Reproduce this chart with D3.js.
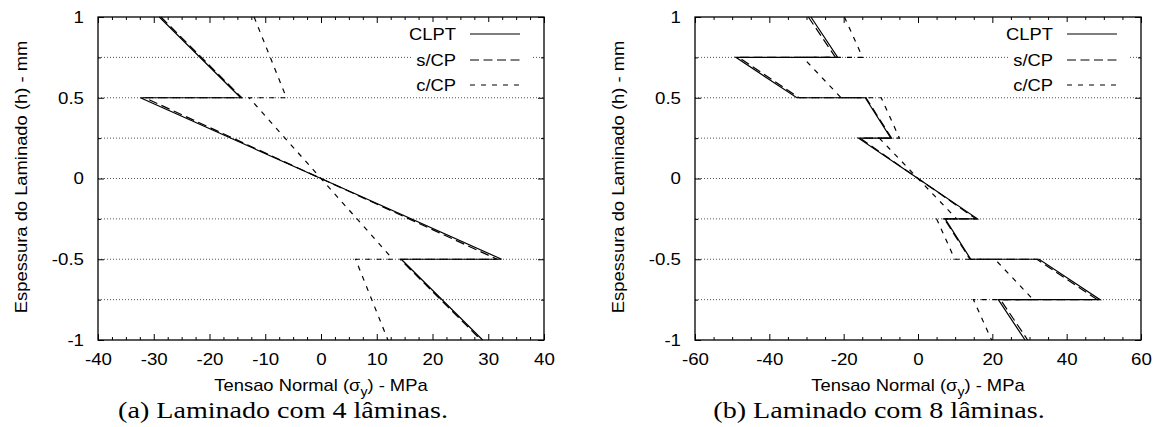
<!DOCTYPE html>
<html><head><meta charset="utf-8">
<script src="https://cdn.jsdelivr.net/npm/d3@7"></script>
<style>
body{margin:0;background:#fff}
svg{display:block}
text{font-family:"Liberation Sans",Arial,Helvetica,sans-serif;fill:#000}
text.cap{font-family:"Liberation Serif","Times New Roman",serif}
</style>
</head><body>
<svg id="c" width="1161" height="427"></svg>
<script>
// ---------- data ----------
const seriesNames = ["CLPT", "s/CP", "c/CP"];

// 4-ply laminate (panel a): thickness coordinate h (mm) and stress (MPa)
const h4    = [1, 0.5, 0.5, 0, -0.5, -0.5, -1];
const clpt4 = [-29.0, -14.4, -32.4, 0, 32.4, 14.4, 29.0];
const scp4  = [-28.7, -14.2, -31.6, 0, 31.6, 14.2, 28.7];
const ccp4  = [-12.0, -6.2, -12.9, 0, 12.9, 6.2, 12.0];

// 8-ply laminate (panel b)
const h8    = [1, 0.75, 0.75, 0.5, 0.5, 0.25, 0.25, 0, -0.25, -0.25, -0.5, -0.5, -0.75, -0.75, -1];
const clpt8 = [-28.8, -21.6, -49.0, -32.6, -14.2, -7.3, -16.0, 0, 16.0, 7.3, 14.2, 32.6, 49.0, 21.6, 28.8];
const scp8  = [-29.5, -22.2, -48.2, -32.0, -14.0, -7.1, -15.6, 0, 15.6, 7.1, 14.0, 32.0, 48.2, 22.2, 29.5];
const ccp8  = [-19.8, -14.9, -31.0, -20.7, -9.9, -5.0, -10.4, 0, 10.4, 5.0, 9.9, 20.7, 31.0, 14.9, 19.8];

const xTicks4 = [-40, -30, -20, -10, 0, 10, 20, 30, 40];
const xTicks8 = [-60, -40, -20, 0, 20, 40, 60];
const yTicks = [1, 0.5, 0, -0.5, -1];
const yTickLabels = ["1", "0.5", "0", "-0.5", "-1"];
const yLabel = "Espessura do Laminado (h) - mm";
const xLabelParts = ["Tensao Normal (\u03C3", "y", ") - MPa"];
const captions = ["(a) Laminado com 4 l\u00E2minas.", "(b) Laminado com 8 l\u00E2minas."];

// ---------- layout / style ----------
const svg = d3.select("#c");
const top0 = 17, bot0 = 340;
const dashes = [null, "9,4.5", "5,6"];
const panels = [
  {x0: 98, x1: 544, dom: [-40, 40], ticks: xTicks4, minor: 2.5, h: h4, series: [clpt4, scp4, ccp4], cap: captions[0], capX: 283},
  {x0: 695, x1: 1141, dom: [-60, 60], ticks: xTicks8, minor: 5, h: h8, series: [clpt8, scp8, ccp8], cap: captions[1], capX: 879}
];

function stretch(sel, k) {
  sel.each(function () {
    const w = this.getComputedTextLength();
    d3.select(this).attr("textLength", w * k).attr("lengthAdjust", "spacingAndGlyphs");
  });
}

panels.forEach(p => {
  const g = svg.append("g");
  const x = d3.scaleLinear().domain(p.dom).range([p.x0, p.x1]);
  const y = d3.scaleLinear().domain([-1, 1]).range([bot0, top0]);

  const xMinor = d3.range(p.dom[0], p.dom[1] + 1e-9, p.minor).filter(v => !p.ticks.includes(v));
  const yMinor = [0.75, 0.25, -0.25, -0.75];

  // grid
  g.append("g").selectAll("line").data(yTicks.concat(yMinor).filter(v => Math.abs(v) < 1)).join("line")
    .attr("x1", p.x0).attr("x2", p.x1).attr("y1", d => y(d)).attr("y2", d => y(d))
    .attr("stroke", "#555").attr("stroke-width", 1).attr("stroke-dasharray", "1,2");

  // axes
  const fmt = d => String(d);
  const ax = g.append("g").attr("transform", `translate(0,${bot0})`)
    .call(d3.axisBottom(x).tickValues(p.ticks).tickSize(-6).tickPadding(13).tickFormat(fmt));
  g.append("g").attr("transform", `translate(0,${bot0})`)
    .call(d3.axisBottom(x).tickValues(xMinor).tickSize(-3).tickFormat(""));
  g.append("g").attr("transform", `translate(0,${top0})`)
    .call(d3.axisTop(x).tickValues(p.ticks).tickSize(-6).tickFormat(""));
  g.append("g").attr("transform", `translate(0,${top0})`)
    .call(d3.axisTop(x).tickValues(xMinor).tickSize(-3).tickFormat(""));
  const ay = g.append("g").attr("transform", `translate(${p.x0},0)`)
    .call(d3.axisLeft(y).tickValues(yTicks).tickSize(-6).tickPadding(14).tickFormat((d, i) => yTickLabels[i]));
  g.append("g").attr("transform", `translate(${p.x0},0)`)
    .call(d3.axisLeft(y).tickValues(yMinor).tickSize(-3).tickFormat(""));
  g.append("g").attr("transform", `translate(${p.x1},0)`)
    .call(d3.axisRight(y).tickValues(yTicks).tickSize(-6).tickFormat(""));
  g.append("g").attr("transform", `translate(${p.x1},0)`)
    .call(d3.axisRight(y).tickValues(yMinor).tickSize(-3).tickFormat(""));
  g.selectAll(".domain").remove();
  g.selectAll(".tick line").attr("stroke", "#000").attr("stroke-width", 1);
  g.selectAll(".tick text").attr("font-size", 17).attr("fill", "#000");
  stretch(ax.selectAll(".tick text"), 1.1);
  stretch(ay.selectAll(".tick text"), 1.1);

  // legend (opaque box)
  g.append("rect").attr("x", p.x1 - 133).attr("y", 22).attr("width", 120).attr("height", 72).attr("fill", "#fff");
  seriesNames.forEach((name, i) => {
    const ly = [34, 60, 85][i];
    const t = g.append("text").attr("x", p.x1 - 88).attr("y", ly).attr("dy", "0.35em")
      .attr("text-anchor", "end").attr("font-size", 17).text(name);
    stretch(t, 1.08);
    g.append("line").attr("x1", p.x1 - 74).attr("x2", p.x1 - 24).attr("y1", ly).attr("y2", ly)
      .attr("stroke", "#000").attr("stroke-width", 1.2).attr("stroke-dasharray", dashes[i]);
  });

  // series
  const line = d3.line().x(d => x(d[0])).y(d => y(d[1]));
  p.series.forEach((vals, i) => {
    g.append("path").datum(vals.map((v, j) => [v, p.h[j]]))
      .attr("d", line).attr("fill", "none").attr("stroke", "#000")
      .attr("stroke-width", 1.2).attr("stroke-dasharray", dashes[i]);
  });

  // border
  g.append("rect").attr("x", p.x0).attr("y", top0).attr("width", p.x1 - p.x0).attr("height", bot0 - top0)
    .attr("fill", "none").attr("stroke", "#000").attr("stroke-width", 1.3);

  // x label
  const xl = g.append("text").attr("x", (p.x0 + p.x1) / 2).attr("y", 391).attr("text-anchor", "middle").attr("font-size", 17);
  xl.append("tspan").text(xLabelParts[0]);
  xl.append("tspan").attr("font-size", 13).attr("dy", 5).text(xLabelParts[1]);
  xl.append("tspan").attr("dy", -5).text(xLabelParts[2]);
  stretch(xl, 1.08);

  // y label
  const yl = g.append("text").attr("transform", `translate(${p.x0 - 71},177) rotate(-90)`)
    .attr("text-anchor", "middle").attr("font-size", 17).text(yLabel);
  stretch(yl, 1.08);

  // caption
  const cp = g.append("text").attr("class", "cap").attr("x", p.capX).attr("y", 418)
    .attr("text-anchor", "middle").attr("font-size", 24).text(p.cap);
  stretch(cp, 1.17);
});
</script>
</body></html>
